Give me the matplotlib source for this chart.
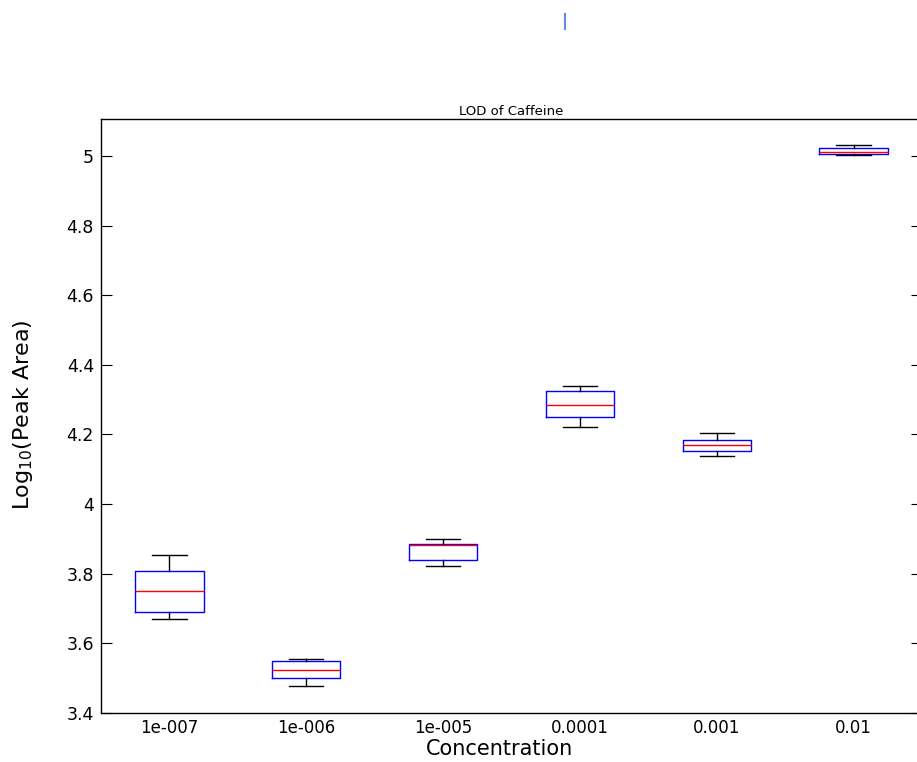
import matplotlib
matplotlib.use("Agg")
import matplotlib.pyplot as plt
from matplotlib.lines import Line2D

# Concentration groups and box statistics
labels = ['1e-007', '1e-006', '1e-005', '0.0001', '0.001', '0.01']
whislo = [3.669, 3.478, 3.822, 4.220, 4.139, 5.003]
q1 = [3.691, 3.500, 3.840, 4.250, 4.153, 5.006]
med = [3.750, 3.523, 3.882, 4.286, 4.171, 5.012]
q3 = [3.809, 3.549, 3.886, 4.326, 4.184, 5.022]
whishi = [3.855, 3.554, 3.899, 4.339, 4.203, 5.032]
yticks = [3.4, 3.6, 3.8, 4.0, 4.2, 4.4, 4.6, 4.8, 5.0]
ytick_labels = ['3.4', '3.6', '3.8', '4', '4.2', '4.4', '4.6', '4.8', '5']

plt.rcParams['font.family'] = ['DejaVu Sans']

fig = plt.figure(figsize=(9.17, 7.62), dpi=100)
ax = fig.add_axes([101 / 917, 1 - 713 / 762, (922 - 101) / 917, (713 - 119) / 762])

stats = []
for i in range(len(labels)):
    stats.append({'label': labels[i], 'whislo': whislo[i], 'q1': q1[i], 'med': med[i],
                  'q3': q3[i], 'whishi': whishi[i], 'fliers': []})

ax.bxp(stats, positions=range(1, len(labels) + 1), widths=0.5, showfliers=False,
       boxprops=dict(color='#0000ff', linewidth=1.0),
       medianprops=dict(color='#ff0000', linewidth=1.0),
       whiskerprops=dict(color='black', linewidth=1.0),
       capprops=dict(color='black', linewidth=1.0),
       capwidths=0.25)

ax.set_xlim(0.5, 6.5)
ax.set_ylim(3.4, 5.106)
ax.set_yticks(yticks)
ax.set_yticklabels(ytick_labels)
ax.tick_params(axis='y', direction='in', length=8, width=0.8, right=True, labelsize=12.5, pad=5)
ax.tick_params(axis='x', length=0, labelsize=12, pad=4)
for s in ax.spines.values():
    s.set_linewidth(1.0)

ax.set_title('LOD of Caffeine', fontsize=9.5, pad=3)
ax.set_xlabel('Concentration', fontsize=15)
ax.xaxis.set_label_coords(0.485, -0.044)
ax.set_ylabel('Log$_{10}$(Peak Area)', fontsize=16)
ax.yaxis.set_label_coords(-0.08, 0.503)

# small blue mark near the top of the image
fig.lines.append(Line2D([565 / 917, 565 / 917], [1 - 14 / 762, 1 - 29 / 762],
                        transform=fig.transFigure, color='#5b8fd6', linewidth=1.5))

fig.savefig('out.png', dpi=100)
